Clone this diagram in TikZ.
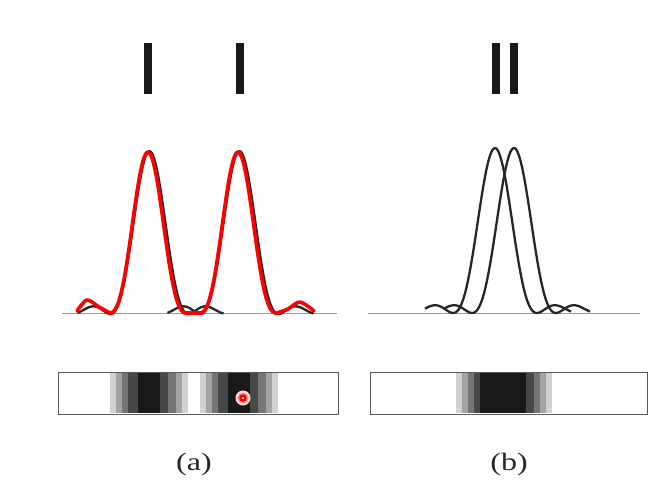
\documentclass[tikz,border=0pt]{standalone}
\usepackage{fontspec}
\setmainfont{Liberation Serif}
\colorlet{ink}{black!90}
\tikzset{
        % point spread curves
        psf_black/.style={draw=black!85, line width=2.3pt, line join=round},
        psf_red/.style={draw=red, line width=3.6pt, line join=round, line cap=round},
        % axis under the curves
        axis_line/.style={draw=black!40, line width=1.1pt},
        % slits at the top
        slit/.style={fill=ink},
        % frame of the screen image
        screen_box/.style={draw=black!65, line width=1pt},
        % captions
        caption/.style={font=\fontsize{25}{27}\selectfont, text=black!85}
}
\newcommand{\capt}[1]{\scalebox{1.28}[1]{#1}}
\begin{document}
\begin{tikzpicture}[
            x=1pt, y=-1pt,
            declare function={
                psf(\t)=(sin(4.3*(\t+0.01))/(0.07505*(\t+0.01)))^2;
                psfa(\t)=(sin(4.6*(\t+0.01))/(0.08029*(\t+0.01)))^2;
                psfr(\t)=(sin(4.76*(\t+0.01))/(0.08308*(\t+0.01)))^2;
                psfb(\t)=(sin(4.3*(\t+0.01))/(0.07505*(\t+0.01)))^2;
            }
        ]
            \useasboundingbox (0,0) rectangle (668,490);
            % slits
            \fill[slit] (144,43) rectangle (152,94);
            \fill[slit] (236,43) rectangle (244,94);
            \fill[slit] (492,43) rectangle (500,94);
            \fill[slit] (510,43) rectangle (518,94);
            % axes
            \coordinate (base_a_l) at (62,313.5);
            \coordinate (base_a_r) at (337,313.5);
            \coordinate (base_b_l) at (368,313.5);
            \coordinate (base_b_r) at (640,313.5);
            \draw[axis_line] (base_a_l) -- (base_a_r);
            \draw[axis_line] (base_b_l) -- (base_b_r);
            % (a) resolved
            \foreach \c in {149.5,239.5}
                \draw[psf_black] plot[domain=-72:74, samples=100] ({\c+\x}, {314-163*psfa(\x)});
            \draw[psf_red] plot[smooth] coordinates {(77,311) (87,300) (99,307) (110,313)}
                -- plot[domain=111:276, samples=120] (\x, {313-161*(psfr(\x-148)*(abs(\x-148)<37.8)+psfr(\x-238)*(abs(\x-238)<37.8))})
                -- plot[smooth] coordinates {(277,313) (288,309) (300,302) (314,311)};
            % (b) unresolved
            \foreach \c in {495,514}
                \draw[psf_black] plot[domain=-70:76, samples=100] ({\c+\x}, {313-165*psf(\x)});
            % screen images
            \foreach \x in {100,102,...,296}{
                \pgfmathsetmacro{\ia}{psfb(\x+1.3-149)*(abs(\x+1.3-149)<40)+psfb(\x+1.3-239)*(abs(\x+1.3-239)<40)}
                \pgfmathtruncatemacro{\lev}{20*int(5*min(1,(\ia+0.0001)^0.45)+0.5)}
                \fill[ink!\lev] (\x,373) rectangle ++(2.4,40);
            }
            \foreach \x in {440,442,...,566}{
                \pgfmathsetmacro{\ib}{psfb(\x+1.3-495)*(abs(\x+1.3-495)<43)+psfb(\x+1.3-513)*(abs(\x+1.3-513)<43)}
                \pgfmathtruncatemacro{\lev}{20*int(5*min(1,(\ib+0.0001)^0.42)+0.5)}
                \fill[ink!\lev] (\x,373) rectangle ++(2.4,40);
            }
            \draw[screen_box] (58,372) rectangle (338,414);
            \draw[screen_box] (370,372) rectangle (647,414);
            % marker
            \coordinate (spot) at (243,398);
            \fill[red!15] (spot) circle (7.5);
            \fill[red!45] (spot) circle (5.5);
            \fill[red] (spot) circle (3.8);
            \fill[white] (spot) circle (1.2);
            % captions
            \node[caption] (label_a) at (194,464) {\capt{(a)}};
            \node[caption] (label_b) at (509,464) {\capt{(b)}};
        \end{tikzpicture}
\end{document}
